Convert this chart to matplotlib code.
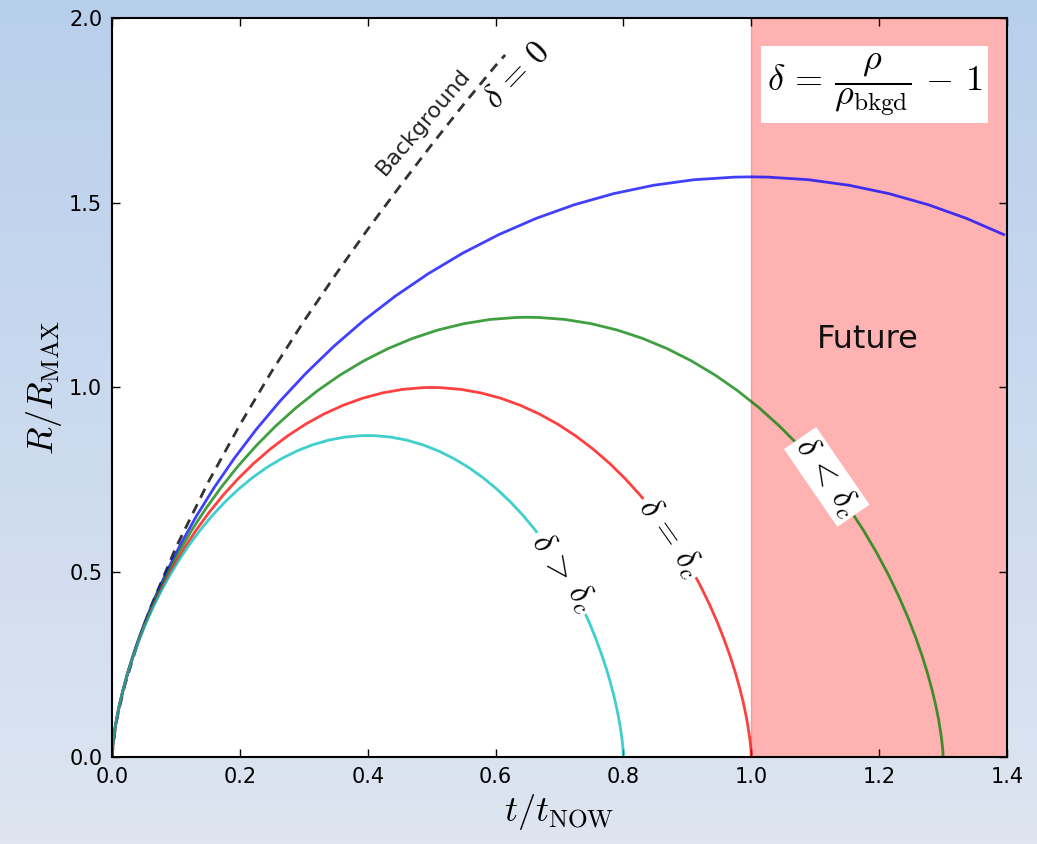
import numpy as np
import matplotlib
matplotlib.use("Agg")
import matplotlib.pyplot as plt

plt.rcParams['mathtext.fontset'] = 'cm'
plt.rcParams['font.family'] = ['DejaVu Sans']

# background (delta = 0) curve
bg_t = [0.0, 0.005, 0.01, 0.02, 0.04, 0.06, 0.1, 0.15, 0.2, 0.25, 0.3,
        0.35, 0.4, 0.45, 0.5, 0.55, 0.6, 0.615]
bg_r = [0.0, 0.077, 0.122, 0.194, 0.308, 0.403, 0.567, 0.742, 0.899, 1.044,
        1.179, 1.306, 1.428, 1.544, 1.657, 1.766, 1.871, 1.900]

# delta < delta_c (blue), runs off to the right edge
blue_t = [0.0, 0.00005, 0.00042, 0.00143, 0.00478, 0.01125, 0.01776, 0.02631,
          0.03714, 0.05046, 0.06646, 0.08529, 0.10709, 0.13196, 0.15995,
          0.19112, 0.22547, 0.26297, 0.30357, 0.34718, 0.39368, 0.44293,
          0.49475, 0.54894, 0.60528, 0.66352, 0.7234, 0.78464, 0.84694,
          0.91001, 0.97352, 1.0, 1.02648, 1.08999, 1.15306, 1.21536, 1.2766,
          1.33648, 1.39472]
blue_r = [0.0, 0.0039, 0.0157, 0.0351, 0.0782, 0.1371, 0.1846, 0.2381,
          0.297, 0.3609, 0.4289, 0.5006, 0.575, 0.6516, 0.7295,
          0.8079, 0.8861, 0.9634, 1.0388, 1.1117, 1.1813, 1.247,
          1.308, 1.3639, 1.4139, 1.4577, 1.4947, 1.5246, 1.5472,
          1.5622, 1.5693, 1.57, 1.5693, 1.5622, 1.5472, 1.5246, 1.4947,
          1.4577, 1.4139]

# green
green_t = [0.0, 0.00003, 0.00028, 0.00093, 0.00311, 0.00732, 0.01154, 0.0171,
           0.02414, 0.0328, 0.0432, 0.05544, 0.06961, 0.08577, 0.10397,
           0.12423, 0.14656, 0.17093, 0.19732, 0.22567, 0.25589, 0.2879,
           0.32158, 0.35681, 0.39343, 0.43129, 0.47021, 0.51001, 0.55051,
           0.59151, 0.63279, 0.65,
           0.66721, 0.70849, 0.74949, 0.78999, 0.82979, 0.86871, 0.90657,
           0.94319, 0.97842, 1.0121, 1.04411, 1.07433, 1.10268, 1.12907,
           1.15344, 1.17577, 1.19603, 1.21423, 1.23039, 1.24456, 1.2568,
           1.2672, 1.27586, 1.2829, 1.28846, 1.29268, 1.29689, 1.29907,
           1.29972, 1.29997, 1.3]
green_r = [0.0, 0.003, 0.0119, 0.0266, 0.0592, 0.1039, 0.1399, 0.1805,
           0.2251, 0.2735, 0.3251, 0.3794, 0.4358, 0.4939, 0.5529,
           0.6124, 0.6717, 0.7302, 0.7874, 0.8426, 0.8954, 0.9452,
           0.9914, 1.0338, 1.0717, 1.1048, 1.1329, 1.1556, 1.1727,
           1.1841, 1.1895, 1.19,
           1.1895, 1.1841, 1.1727, 1.1556, 1.1329, 1.1048, 1.0717,
           1.0338, 0.9914, 0.9452, 0.8954, 0.8426, 0.7874, 0.7302,
           0.6717, 0.6124, 0.5529, 0.4939, 0.4358, 0.3794, 0.3251,
           0.2735, 0.2251, 0.1805, 0.1399, 0.1039, 0.0592, 0.0266,
           0.0119, 0.003, 0.0]

# delta = delta_c (red)
red_t = [0.0, 0.00003, 0.00021, 0.00071, 0.00239, 0.00563, 0.00888, 0.01315,
         0.01857, 0.02523, 0.03323, 0.04265, 0.05355, 0.06598, 0.07998,
         0.09556, 0.11274, 0.13149, 0.15179, 0.17359, 0.19684, 0.22147,
         0.24737, 0.27447, 0.30264, 0.33176, 0.3617, 0.39232, 0.42347,
         0.455, 0.48676, 0.5,
         0.51324, 0.545, 0.57653, 0.60768, 0.6383, 0.66824, 0.69736,
         0.72553, 0.75263, 0.77853, 0.80316, 0.82641, 0.84821, 0.86851,
         0.88726, 0.90444, 0.92002, 0.93402, 0.94645, 0.95735, 0.96677,
         0.97477, 0.98143, 0.98685, 0.99112, 0.99437, 0.99761, 0.99929,
         0.99979, 0.99997, 1.0]
red_r = [0.0, 0.0025, 0.01, 0.0223, 0.0498, 0.0873, 0.1176, 0.1517,
         0.1892, 0.2299, 0.2732, 0.3188, 0.3663, 0.415, 0.4646,
         0.5146, 0.5644, 0.6136, 0.6617, 0.7081, 0.7524, 0.7943,
         0.8331, 0.8687, 0.9006, 0.9284, 0.952, 0.9711, 0.9855,
         0.995, 0.9996, 1.0,
         0.9996, 0.995, 0.9855, 0.9711, 0.952, 0.9284, 0.9006,
         0.8687, 0.8331, 0.7943, 0.7524, 0.7081, 0.6617, 0.6136,
         0.5644, 0.5146, 0.4646, 0.415, 0.3663, 0.3188, 0.2732,
         0.2299, 0.1892, 0.1517, 0.1176, 0.0873, 0.0498, 0.0223,
         0.01, 0.0025, 0.0]

# delta > delta_c (cyan)
cyan_t = [0.0, 0.00002, 0.00017, 0.00057, 0.00191, 0.0045, 0.0071, 0.01052,
          0.01486, 0.02018, 0.02658, 0.03412, 0.04284, 0.05278, 0.06398,
          0.07645, 0.09019, 0.10519, 0.12143, 0.13887, 0.15747, 0.17717,
          0.1979, 0.21958, 0.24211, 0.26541, 0.28936, 0.31385, 0.33878,
          0.364, 0.38941, 0.4,
          0.41059, 0.436, 0.46122, 0.48615, 0.51064, 0.53459, 0.55789,
          0.58042, 0.6021, 0.62283, 0.64253, 0.66113, 0.67857, 0.69481,
          0.70981, 0.72355, 0.73602, 0.74722, 0.75716, 0.76588, 0.77342,
          0.77982, 0.78514, 0.78948, 0.7929, 0.7955, 0.79809, 0.79943,
          0.79983, 0.79998, 0.8]
cyan_r = [0.0, 0.0022, 0.0087, 0.0194, 0.0433, 0.076, 0.1023, 0.1319,
          0.1646, 0.2, 0.2377, 0.2774, 0.3186, 0.3611, 0.4042,
          0.4477, 0.491, 0.5338, 0.5756, 0.616, 0.6546, 0.691,
          0.7248, 0.7558, 0.7835, 0.8077, 0.8283, 0.8449, 0.8574,
          0.8657, 0.8696, 0.87,
          0.8696, 0.8657, 0.8574, 0.8449, 0.8283, 0.8077, 0.7835,
          0.7558, 0.7248, 0.691, 0.6546, 0.616, 0.5756, 0.5338,
          0.491, 0.4477, 0.4042, 0.3611, 0.3186, 0.2774, 0.2377,
          0.2, 0.1646, 0.1319, 0.1023, 0.076, 0.0433, 0.0194,
          0.0087, 0.0022, 0.0]

fig = plt.figure(figsize=(10.37, 8.44), dpi=100)

# slide-like gradient behind everything
grad_ax = fig.add_axes([0, 0, 1, 1], zorder=-10)
top = np.array([184, 207, 236]) / 255.0
bottom = np.array([222, 229, 241]) / 255.0
s = np.linspace(0, 1, 256)[:, None]
grad = top[None, :] * (1 - s) + bottom[None, :] * s
grad_ax.imshow(grad[:, None, :], aspect='auto', extent=[0, 1, 0, 1])
grad_ax.axis('off')

ax = fig.add_axes([0.108, 0.1031, 0.8631, 0.8756])
ax.set_facecolor('white')

ax.axvspan(1.0, 1.4, color='red', alpha=0.3, zorder=0)

ax.plot(bg_t, bg_r, color='black', lw=2, alpha=0.8, linestyle=(0, (3.6, 2.6)))
ax.plot(blue_t, blue_r, color='blue', lw=2, alpha=0.75)
ax.plot(green_t, green_r, color='green', lw=2, alpha=0.75)
ax.plot(red_t, red_r, color='red', lw=2, alpha=0.75)
ax.plot(cyan_t, cyan_r, color='c', lw=2, alpha=0.75)

box = dict(fc='white', ec='none', pad=2)
ax.text(0.7055, 0.50, r'$\delta\,>\,\delta_c$', rotation=-54.5, ha='center',
        va='center', fontsize=24, bbox=box, zorder=5)
ax.text(0.873, 0.593, r'$\delta\,=\,\delta_c$', rotation=-55, ha='center',
        va='center', fontsize=24, bbox=box, zorder=5)
ax.text(1.118, 0.758, r'$\delta\,<\,\delta_c$', rotation=-55.5, ha='center',
        va='center', fontsize=24, bbox=box, zorder=5)
ax.text(0.4865, 1.719, 'Background', rotation=49.4, ha='center',
        va='center', fontsize=16, color='#222222')
ax.text(0.632, 1.846, r'$\delta\,=\,0$', rotation=46, ha='center',
        va='center', fontsize=24)
ax.text(1.1927, 1.82, r'$\delta\,=\,\dfrac{\rho}{\rho_{\mathrm{bkgd}}}\,-\,1$',
        ha='center', va='center', fontsize=26,
        bbox=dict(fc='white', ec='none', pad=4))
ax.text(1.1826, 1.1286, 'Future', ha='center', va='center', fontsize=23,
        color='#111111')

ax.set_xlim(0, 1.4)
ax.set_ylim(0, 2.0)
ax.set_xticks(np.arange(0, 1.41, 0.2))
ax.set_yticks(np.arange(0, 2.01, 0.5))
ax.tick_params(direction='in', top=True, right=True, length=6, width=1,
               labelsize=15, pad=7)
for sp in ax.spines.values():
    sp.set_linewidth(1.5)

ax.set_xlabel(r'$t/t_{\mathrm{NOW}}$', fontsize=26)
ax.set_ylabel(r'$R/R_{\mathrm{MAX}}$', fontsize=26)

fig.savefig('out.png', dpi=100)
